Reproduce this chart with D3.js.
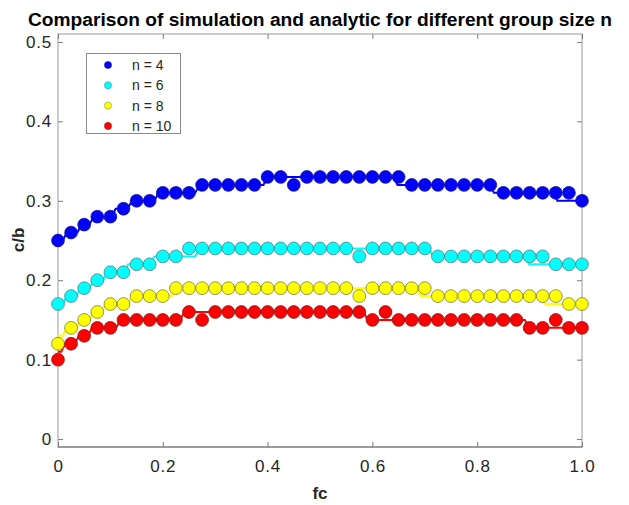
<!DOCTYPE html>
<html lang="en">
<head>
<meta charset="UTF-8">
<title>Simulation vs analytic</title>
<script src="https://d3js.org/d3.v7.min.js"></script>
<style>
    body { margin: 0; background: #fff; }
    svg { display: block; font-family: "Liberation Sans", Arial, sans-serif; }
    .tick text { fill: #262626; font-size: 17px; letter-spacing: 0.8px; }
</style>
</head>
<body>
<svg id="chart" width="629" height="505"></svg>
<script>
// simulation sample points (fc)
const fc = [0, 0.025, 0.05, 0.075, 0.1, 0.125, 0.15, 0.175, 0.2, 0.225,
    0.25, 0.275, 0.3, 0.325, 0.35, 0.375, 0.4, 0.425, 0.45, 0.475,
    0.5, 0.525, 0.55, 0.575, 0.6, 0.625, 0.65, 0.675, 0.7, 0.725,
    0.75, 0.775, 0.8, 0.825, 0.85, 0.875, 0.9, 0.925, 0.95, 0.975, 1];

// simulated c/b
const sim4 = [0.25, 0.26, 0.27, 0.28, 0.28, 0.29, 0.30, 0.30, 0.31, 0.31,
    0.31, 0.32, 0.32, 0.32, 0.32, 0.32, 0.33, 0.33, 0.32, 0.33,
    0.33, 0.33, 0.33, 0.33, 0.33, 0.33, 0.33, 0.32, 0.32, 0.32,
    0.32, 0.32, 0.32, 0.32, 0.31, 0.31, 0.31, 0.31, 0.31, 0.31, 0.30];
const sim6 = [0.17, 0.18, 0.19, 0.20, 0.21, 0.21, 0.22, 0.22, 0.23, 0.23,
    0.24, 0.24, 0.24, 0.24, 0.24, 0.24, 0.24, 0.24, 0.24, 0.24,
    0.24, 0.24, 0.24, 0.23, 0.24, 0.24, 0.24, 0.24, 0.24, 0.23,
    0.23, 0.23, 0.23, 0.23, 0.23, 0.23, 0.23, 0.23, 0.22, 0.22, 0.22];
const sim8 = [0.12, 0.14, 0.15, 0.16, 0.17, 0.17, 0.18, 0.18, 0.18, 0.19,
    0.19, 0.19, 0.19, 0.19, 0.19, 0.19, 0.19, 0.19, 0.19, 0.19,
    0.19, 0.19, 0.19, 0.18, 0.19, 0.19, 0.19, 0.19, 0.19, 0.18,
    0.18, 0.18, 0.18, 0.18, 0.18, 0.18, 0.18, 0.18, 0.18, 0.17, 0.17];
const sim10 = [0.10, 0.12, 0.13, 0.14, 0.14, 0.15, 0.15, 0.15, 0.15, 0.15,
    0.16, 0.15, 0.16, 0.16, 0.16, 0.16, 0.16, 0.16, 0.16, 0.16,
    0.16, 0.16, 0.16, 0.16, 0.15, 0.16, 0.15, 0.15, 0.15, 0.15,
    0.15, 0.15, 0.15, 0.15, 0.15, 0.15, 0.14, 0.14, 0.15, 0.14, 0.14];

// analytic curve: levels and the fc where each next level starts
const ana4Levels = [0.25, 0.26, 0.27, 0.28, 0.29, 0.30, 0.31, 0.32, 0.33, 0.32, 0.31, 0.30];
const ana4Steps  = [0.013, 0.041, 0.064, 0.106, 0.137, 0.188, 0.266, 0.396, 0.644, 0.828, 0.949];
const ana6Levels = [0.17, 0.18, 0.19, 0.20, 0.21, 0.22, 0.23, 0.24, 0.23, 0.22];
const ana6Steps  = [0.013, 0.039, 0.064, 0.09, 0.13, 0.18, 0.266, 0.712, 0.895];
const ana8Levels = [0.13, 0.14, 0.15, 0.16, 0.17, 0.18, 0.19, 0.18, 0.17];
const ana8Steps  = [0.013, 0.039, 0.064, 0.087, 0.137, 0.221, 0.688, 0.926];
const ana10Levels = [0.11, 0.12, 0.13, 0.14, 0.15, 0.16, 0.15, 0.14];
const ana10Steps  = [0.010, 0.036, 0.061, 0.115, 0.237, 0.587, 0.895];

const legendLabels = ["n = 4", "n = 6", "n = 8", "n = 10"];
const xTicks = [0, 0.2, 0.4, 0.6, 0.8, 1.0];
const yTicks = [0, 0.1, 0.2, 0.3, 0.4, 0.5];

const series = [
    {label: legendLabels[0], sim: sim4,  levels: ana4Levels,  steps: ana4Steps,  color: "#0000ff", edge: "#1a1a80"},
    {label: legendLabels[1], sim: sim6,  levels: ana6Levels,  steps: ana6Steps,  color: "#00ffff", edge: "#5a7a7a"},
    {label: legendLabels[2], sim: sim8,  levels: ana8Levels,  steps: ana8Steps,  color: "#ffff00", edge: "#7a7a40"},
    {label: legendLabels[3], sim: sim10, levels: ana10Levels, steps: ana10Steps, color: "#ff0000", edge: "#802020"}
];

const svg = d3.select("#chart");
const pLeft = 58, pRight = 582, pTop = 34, pBottom = 447;

const x = d3.scaleLinear().domain([0, 1]).range([pLeft, pRight]);
const y = d3.scaleLinear().domain([-0.01, 0.51]).range([pBottom, pTop]);

// axes box
svg.append("rect")
    .attr("x", pLeft).attr("y", pTop)
    .attr("width", pRight - pLeft).attr("height", pBottom - pTop)
    .attr("fill", "none").attr("stroke", "#9a9a9a").attr("stroke-width", 1);

const fmtX = d => d === 0 ? "0" : d3.format(".1f")(d);
const fmtY = d => d === 0 ? "0" : d3.format(".1f")(d);

function styleAxis(g) {
    g.select(".domain").remove();
    g.selectAll(".tick line").attr("stroke", "#7a7a7a");
}

svg.append("g").attr("transform", `translate(0,${pBottom})`)
    .call(d3.axisBottom(x).tickValues(xTicks).tickFormat(fmtX).tickSizeInner(-5).tickPadding(13))
    .call(styleAxis);
svg.append("g").attr("transform", `translate(0,${pTop})`)
    .call(d3.axisTop(x).tickValues(xTicks).tickFormat("").tickSizeInner(-5))
    .call(styleAxis);
svg.append("g").attr("transform", `translate(${pLeft},0)`)
    .call(d3.axisLeft(y).tickValues(yTicks).tickFormat(fmtY).tickSizeInner(-5).tickPadding(6))
    .call(styleAxis);
svg.append("g").attr("transform", `translate(${pRight},0)`)
    .call(d3.axisRight(y).tickValues(yTicks).tickFormat("").tickSizeInner(-5))
    .call(styleAxis);

// bottom axis line a bit darker
svg.append("line")
    .attr("x1", pLeft).attr("x2", pRight).attr("y1", pBottom).attr("y2", pBottom)
    .attr("stroke", "#6a6a6a");

// analytic staircase lines
const ramp = 0.004;
const line = d3.line().x(d => x(d[0])).y(d => y(d[1]));
series.forEach(s => {
    const pts = [[0, s.levels[0]]];
    s.steps.forEach((c, i) => {
        pts.push([c - ramp, s.levels[i]]);
        pts.push([c + ramp, s.levels[i + 1]]);
    });
    pts.push([1, s.levels[s.levels.length - 1]]);
    svg.append("path")
        .attr("d", line(pts))
        .attr("fill", "none")
        .attr("stroke", s.color)
        .attr("stroke-width", 2);
});

// simulation markers
series.forEach(s => {
    svg.append("g").selectAll("circle")
        .data(s.sim)
        .join("circle")
        .attr("cx", (d, i) => x(fc[i]))
        .attr("cy", d => y(d))
        .attr("r", 6.4)
        .attr("fill", s.color)
        .attr("stroke", s.edge)
        .attr("stroke-width", 0.8);
});

// legend
const lg = svg.append("g");
lg.append("rect")
    .attr("x", 86.5).attr("y", 53.5).attr("width", 94).attr("height", 80)
    .attr("fill", "#fff").attr("stroke", "#8a8a8a").attr("stroke-width", 1);
series.forEach((s, i) => {
    const ly = 65 + i * 20.3;
    lg.append("circle").attr("cx", 108).attr("cy", ly).attr("r", 3.6)
        .attr("fill", s.color).attr("stroke", s.edge).attr("stroke-width", 0.5);
    lg.append("text").attr("x", 132).attr("y", ly + 5)
        .attr("font-size", 14).attr("fill", "#262626").text(s.label);
});

// title and axis labels
svg.append("text")
    .attr("x", 28).attr("y", 26)
    .attr("font-weight", "bold").attr("font-size", 17.5)
    .attr("textLength", 584).attr("lengthAdjust", "spacingAndGlyphs")
    .text("Comparison of simulation and analytic for different group size n");

svg.append("text")
    .attr("x", 320).attr("y", 499)
    .attr("text-anchor", "middle")
    .attr("font-weight", "bold").attr("font-size", 17).attr("fill", "#262626")
    .text("fc");

svg.append("text")
    .attr("transform", "translate(24,240) rotate(-90)")
    .attr("text-anchor", "middle")
    .attr("font-weight", "bold").attr("font-size", 17).attr("fill", "#262626")
    .text("c/b");
</script>
</body>
</html>
